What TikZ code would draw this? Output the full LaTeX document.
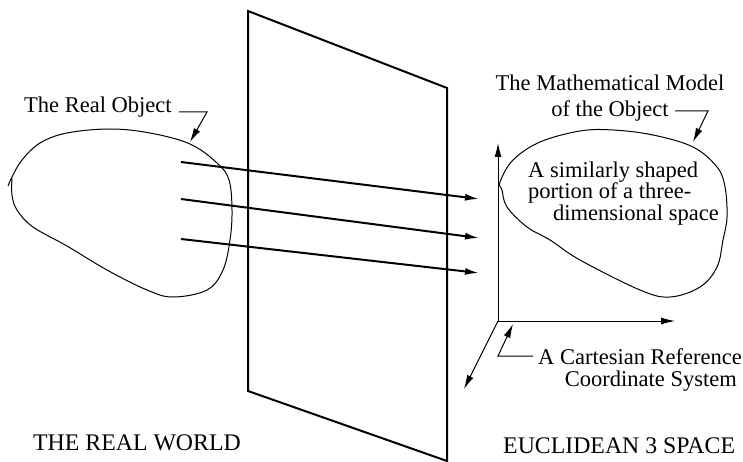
\documentclass[tikz,border=0pt]{standalone}
\usepackage{fontspec}
\setmainfont{Liberation Serif}
\usetikzlibrary{arrows.meta, math}

\tikzset{
heavy/.style={line width=2pt},
thinline/.style={line width=1pt},
pointer/.style={-{Latex[length=14pt,width=7pt]}},
lbl/.style={inner sep=0pt, font=\fontsize{22.5}{21.5}\selectfont},
caps/.style={inner sep=0pt, font=\fontsize{23.8}{24}\selectfont},
}

\begin{document}
\begin{tikzpicture}[x=1pt,y=-1pt]
\tikzmath{
\Ox=498; \Oy=321;
\pl=248; \pr=447;
}
\useasboundingbox (0,0) rectangle (743,462);

% the picture plane
\draw[heavy, line join=miter] (\pl,11) -- (\pr,88) -- (\pr,461) -- (\pl,391) -- cycle;

% the real object
\draw[thinline] plot[smooth, tension=0.6] coordinates {(12,178) (12,195) (17,210) (33,227) (67,246) (107,270) (147,290) (173,297) (207,290) (223,270) (230,240) (232,210) (229,180) (217,163) (190,144) (150,133) (110,129) (67,133) (40,143) (22,160) (12,177) (8,186)};

% the mathematical model
\draw[thinline] plot[smooth cycle, tension=0.6] coordinates {(500,182) (513,160) (540,142) (580,131) (613,130) (653,135) (693,147) (717,167) (725,187) (727,217) (723,240) (717,267) (700,287) (670,297) (640,290) (580,260) (550,240) (527,227) (507,207) (502,190)};

% mapping arrows
\coordinate (s1) at (181,162); \coordinate (e1) at (479,199);
\coordinate (s2) at (181,199); \coordinate (e2) at (479,238);
\coordinate (s3) at (181,239); \coordinate (e3) at (479,273);
\draw[heavy, pointer] (s1) -- (e1);
\draw[heavy, pointer] (s2) -- (e2);
\draw[heavy, pointer] (s3) -- (e3);

% reference frame
\coordinate (O) at (\Ox,\Oy);
\coordinate (Zup) at (\Ox,143);
\coordinate (Xr) at (675,\Oy);
\coordinate (Yd) at (464,389);
\draw[thinline, pointer] (O) -- (Zup);
\draw[thinline, pointer] (O) -- (Xr);
\draw[thinline, pointer] (O) -- (Yd);

% labels (base of a multi-line node = its last line)
\node[lbl, anchor=base west] (realobj) at (24,113) {The Real Object};
\coordinate (k1) at (207,112); \coordinate (t1) at (190,142);
\draw[thinline, pointer] ([xshift=7pt, yshift=1pt]realobj.base east) -- (k1) -- (t1);

\node[lbl, align=center, anchor=base] (model) at (610,117) {The Mathematical Model\\[4.5pt]of the Object};
\coordinate (m0) at (675,111); \coordinate (k2) at (708,111); \coordinate (t2) at (693,142);
\draw[thinline, pointer] (m0) -- (k2) -- (t2);

\node[lbl, align=left, anchor=base west] (portion) at (528,220) {A similarly shaped\\portion of a three-\\\hspace*{25pt}dimensional space};

\node[lbl, align=right, anchor=base east] (cart) at (742,386) {A Cartesian Reference\\Coordinate System\hspace*{5pt}};
\coordinate (c0) at (533,356); \coordinate (c1) at (\Ox,356); \coordinate (c2) at (513,324);
\draw[thinline, pointer] (c0) -- (c1) -- (c2);

\node[caps, anchor=base west] (realworld) at (33,450) {THE REAL WORLD};
\node[caps, anchor=base west] (euclid) at (503,453) {EUCLIDEAN 3 SPACE};
\end{tikzpicture}
\end{document}
